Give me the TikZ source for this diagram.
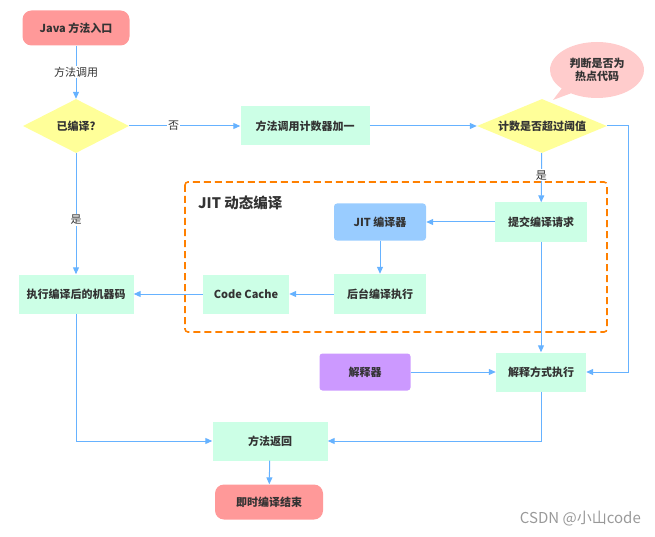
\documentclass[tikz,border=0pt]{standalone}
\usepackage{fontspec}
\setmainfont{Noto Sans CJK SC}
\newfontfamily\wmfont{Noto Sans CJK SC}
\usetikzlibrary{shapes.geometric,shapes.callouts,arrows.meta}
\definecolor{cpink}{HTML}{FF9999}
\definecolor{cmint}{HTML}{CCFFE6}
\definecolor{cyel}{HTML}{FFFF99}
\definecolor{cblue}{HTML}{99CCFF}
\definecolor{cpurp}{HTML}{CC99FF}
\definecolor{cbub}{HTML}{FFCCCC}
\definecolor{corange}{HTML}{FF8000}
\definecolor{carrow}{HTML}{66B2FF}
\definecolor{ctext}{HTML}{333333}
\tikzset{
  base/.style={font=\fontsize{11}{13}\selectfont\bfseries, text=ctext, inner sep=0pt, align=center},
  terminal/.style={base, fill=cpink, rounded corners=9pt, minimum width=107pt, minimum height=35pt},
  mintbox/.style={base, fill=cmint, minimum height=39pt},
  decision/.style={diamond, fill=cyel, inner sep=0pt},
  flow/.style={draw=carrow, line width=1pt, -{Triangle[length=7pt,width=6pt]}},
  lbl/.style={font=\fontsize{11}{13}\selectfont, text=ctext, fill=white, inner sep=1pt},
}
\begin{document}
\begin{tikzpicture}[x=1pt,y=-1pt]
\useasboundingbox (0,0) rectangle (655,537);
% dashed group
\draw[corange, line width=1.6pt, dash pattern=on 7pt off 4pt, rounded corners=3pt] (185,182) rectangle (607,332);
\node[font=\fontsize{14.5}{16}\selectfont\bfseries, text=ctext, anchor=west, inner sep=0pt] (jittitle) at (198,203) {JIT 动态编译};

% nodes
\node[terminal] (start) at (76,28) {Java 方法入口};
\node[decision, minimum width=106pt, minimum height=54pt] (d1) at (76,126) {};
\node[base] (d1t) at (d1) {已编译?};
\node[mintbox, minimum width=129pt] (counter) at (305,126) {方法调用计数器加一};
\node[decision, minimum width=130pt, minimum height=54pt] (d2) at (542,126) {};
\node[base] (d2t) at (d2) {计数是否超过阈值};
\node[ellipse callout, fill=cbub, minimum width=94pt, minimum height=56pt, callout absolute pointer={(553,100)}, base, font=\fontsize{11}{13}\selectfont\bfseries] (bubble) at (597,70) {判断是否为\\热点代码};
\node[mintbox, minimum width=92pt] (submit) at (541,222) {提交编译请求};
\node[base, fill=cblue, rounded corners=3pt, minimum width=92pt, minimum height=37pt] (jit) at (380,222) {JIT 编译器};
\node[mintbox, minimum width=92pt, minimum height=40pt] (bg) at (380,294) {后台编译执行};
\node[mintbox, minimum width=86pt] (cc) at (246,294) {Code Cache};
\node[mintbox, minimum width=115pt] (exec) at (76,294) {执行编译后的机器码};
\node[base, fill=cpurp, rounded corners=3pt, minimum width=91pt, minimum height=37pt] (interp) at (365,372) {解释器};
\node[mintbox, minimum width=90pt] (iexec) at (541,372) {解释方式执行};
\node[mintbox, minimum width=115pt] (ret) at (270,441) {方法返回};
\node[terminal, minimum width=108pt] (end) at (269,502) {即时编译结束};
\node[font=\wmfont\fontsize{15}{17}\selectfont, text=black!40, anchor=east, inner sep=0pt] (wm) at (641,519) {CSDN @小山code};

% connectors
\draw[flow] (start) -- node[lbl] {方法调用} (d1);
\draw[flow] (d1) -- node[lbl, pos=0.4] {否} (counter);
\draw[flow] (counter) -- (d2);
\draw[flow] (d2) -- node[lbl, pos=0.45] {是} (submit);
\coordinate (rc) at (628,126);
\draw[flow] (d2.east) -- (rc) |- (iexec.east);
\draw[flow] (submit) -- (jit);
\draw[flow] (submit) -- (iexec);
\draw[flow] (jit) -- (bg);
\draw[flow] (bg) -- (cc);
\draw[flow] (cc) -- (exec);
\draw[flow] (d1) -- node[lbl, pos=0.55] {是} (exec);
\draw[flow] (exec) |- (ret);
\draw[flow] (interp) -- (iexec);
\draw[flow] (iexec) |- (ret);
\draw[flow] (ret) -- (end);
\end{tikzpicture}
\end{document}
